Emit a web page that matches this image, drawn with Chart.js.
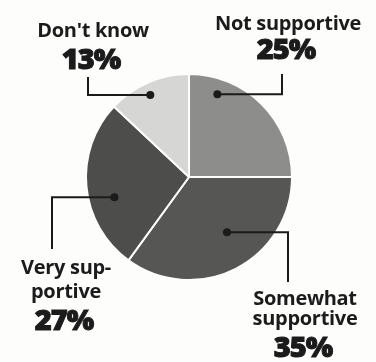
<!DOCTYPE html>
<html>
<head>
<meta charset="utf-8">
<script src="https://cdn.jsdelivr.net/npm/chart.js@4/dist/chart.umd.min.js"></script>
<style>
  html, body { margin: 0; padding: 0; background: #fdfdfc; }
  #wrap { width: 376px; height: 362px; position: relative; }
</style>
</head>
<body>
<div id="wrap"><canvas id="pie"></canvas></div>
<script>
// --- data ---
const categories = ['Not supportive', 'Somewhat supportive', 'Very supportive', "Don't know"];
const values = [25, 35, 27, 13];
const sliceColors = ['#8d8d8b', '#565655', '#4d4d4c', '#d6d6d4'];

// label text lines per slice (as printed)
const labelLines = [
  ['Not supportive'],
  ['Somewhat', 'supportive'],
  ['Very sup-', 'portive'],
  ["Don't know"]
];

// callout layout: where the dot sits inside the slice, elbow x, end y, text spot
const callouts = [
  { frac: 0.21, rf: 0.85, elbowX: 282, endY: 74, tx: 288, ty: [30], py: 59 },
  { frac: 0.44, rf: 0.65, elbowX: 288, endY: 282, tx: 305, ty: [305, 325], py: 357 },
  { frac: 0.40, rf: 0.75, elbowX: 52, endY: 249, tx: 66, ty: [274, 298], py: 330 },
  { frac: 0.46, rf: 0.88, elbowX: 88, endY: 77, tx: 93, ty: [37], py: 69 }
];

const TEXT = '#1b1b1b';

const calloutPlugin = {
  id: 'callouts',
  afterDatasetsDraw(chart) {
    const ctx = chart.ctx;
    const meta = chart.getDatasetMeta(0);
    meta.data.forEach((arc, i) => {
      const p = arc.getProps(['x', 'y', 'startAngle', 'endAngle', 'outerRadius'], true);
      const c = callouts[i];
      const a = p.startAngle + c.frac * (p.endAngle - p.startAngle);
      const dx = p.x + Math.cos(a) * c.rf * p.outerRadius;
      const dy = p.y + Math.sin(a) * c.rf * p.outerRadius;

      ctx.save();
      ctx.strokeStyle = TEXT;
      ctx.lineWidth = 2;
      ctx.beginPath();
      ctx.moveTo(dx, dy);
      ctx.lineTo(c.elbowX, dy);
      ctx.lineTo(c.elbowX, c.endY);
      ctx.stroke();
      ctx.fillStyle = TEXT;
      ctx.beginPath();
      ctx.arc(dx, dy, 4, 0, Math.PI * 2);
      ctx.fill();

      ctx.textAlign = 'center';
      ctx.textBaseline = 'alphabetic';
      ctx.font = 'bold 20px "Open Sans"';
      ctx.letterSpacing = '-0.3px';
      labelLines[i].forEach((line, j) => {
        ctx.fillText(line, c.tx, c.ty[j]);
      });

      ctx.font = '800 29px "Open Sans"';
      ctx.letterSpacing = '-1px';
      ctx.lineWidth = 1;
      const pct = values[i] + '%';
      ctx.fillText(pct, c.tx - 2, c.py);
      ctx.strokeText(pct, c.tx - 2, c.py);
      ctx.restore();
    });
  }
};

new Chart(document.getElementById('pie'), {
  type: 'pie',
  data: {
    labels: categories,
    datasets: [{
      data: values,
      backgroundColor: sliceColors,
      borderColor: '#fdfdfc',
      borderWidth: 2
    }]
  },
  options: {
    responsive: true,
    maintainAspectRatio: false,
    animation: false,
    events: [],
    layout: { padding: { left: 85, right: 83, top: 73, bottom: 81 } },
    plugins: {
      legend: { display: false },
      tooltip: { enabled: false }
    }
  },
  plugins: [calloutPlugin]
});
</script>
</body>
</html>
